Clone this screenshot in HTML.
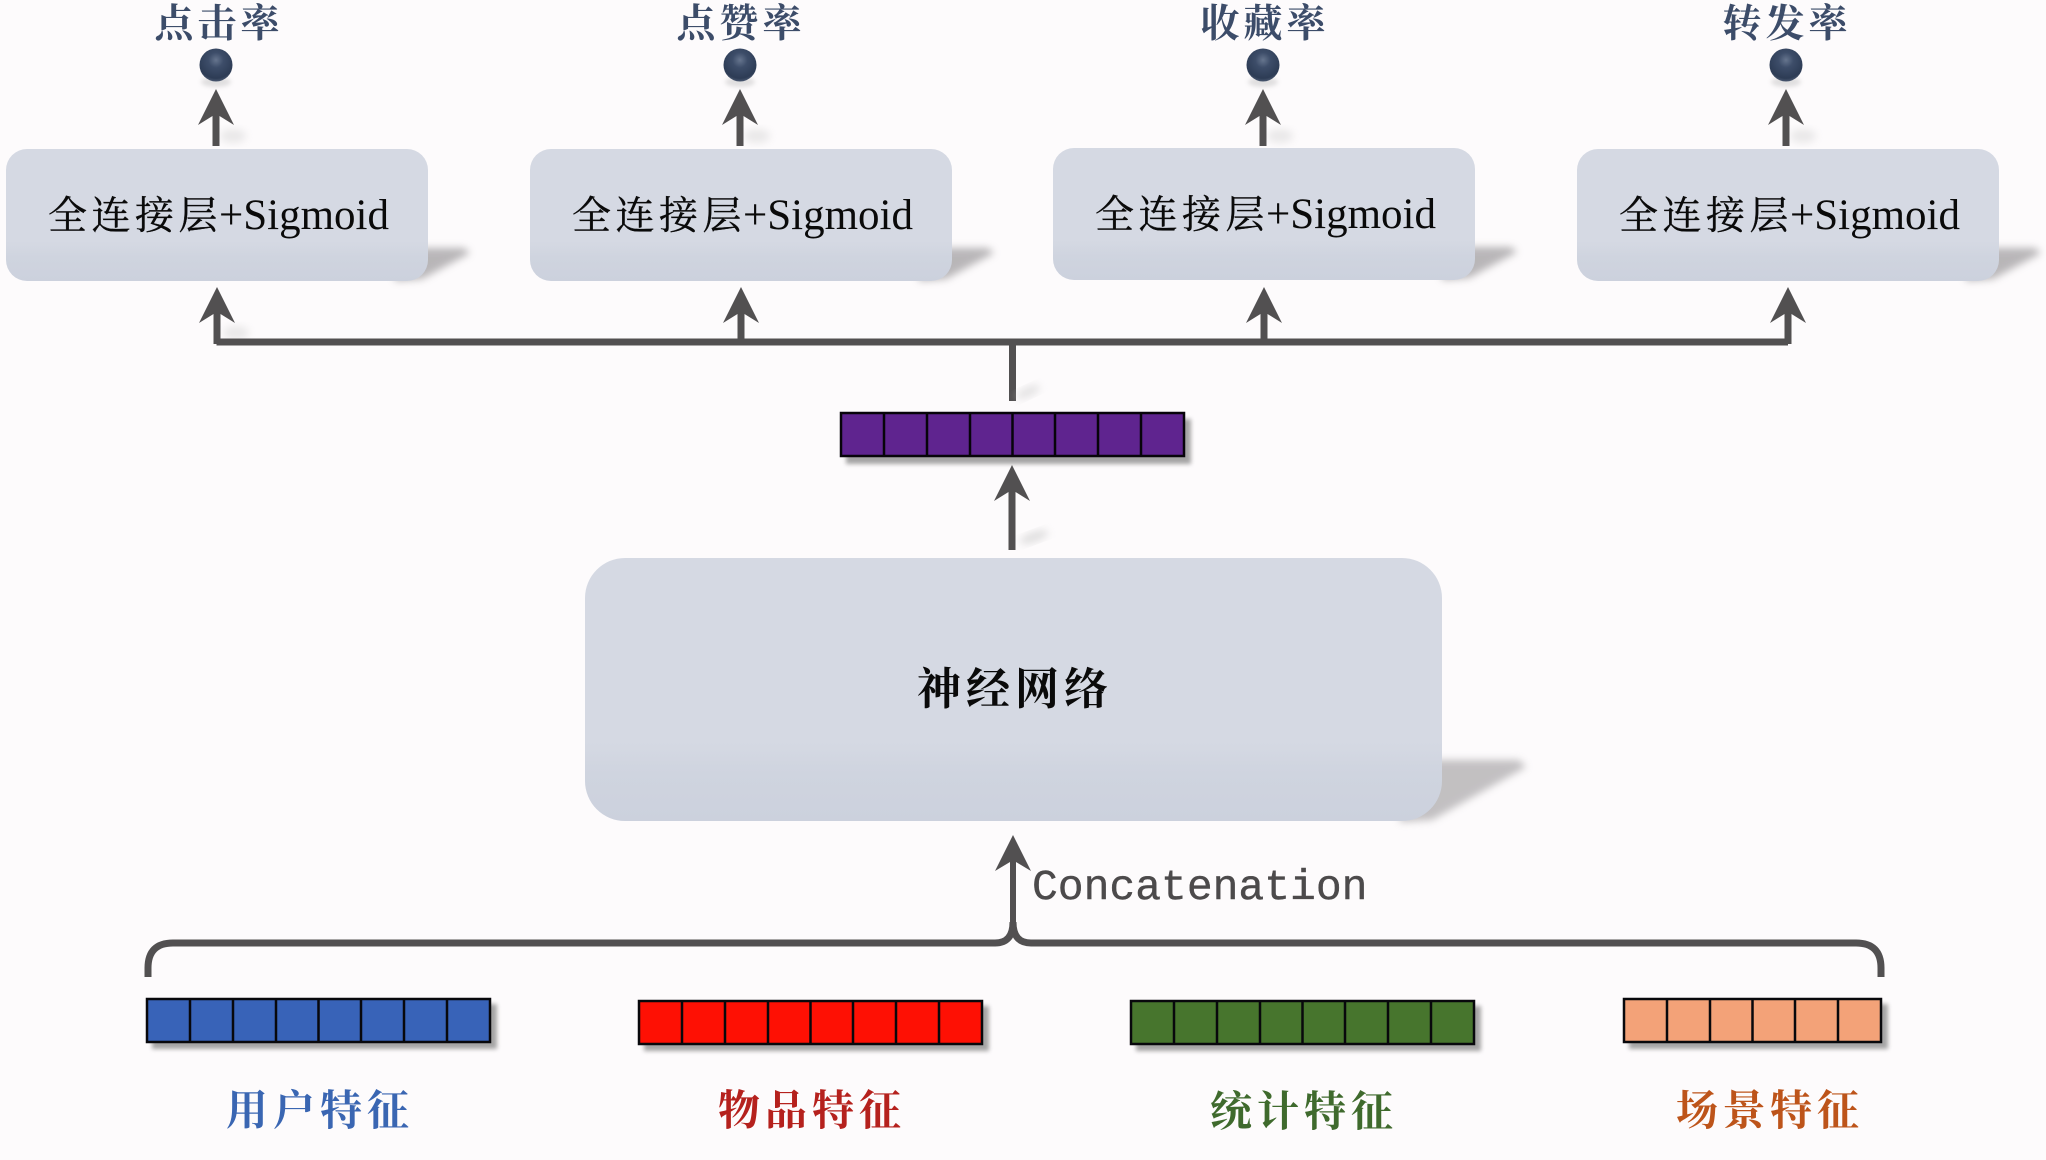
<!DOCTYPE html>
<html><head><meta charset="utf-8"><style>
html,body{margin:0;padding:0;background:#fdfbfc;width:2046px;height:1160px;overflow:hidden}
svg{display:block}
.cj{font-family:"Liberation Serif","Noto Serif CJK SC",serif}
</style></head><body>
<svg width="2046" height="1160" viewBox="0 0 2046 1160" xmlns="http://www.w3.org/2000/svg">
<defs>
<filter id="b4" x="-30%" y="-30%" width="160%" height="160%"><feGaussianBlur stdDeviation="4"/></filter>
<filter id="b2" x="-30%" y="-50%" width="160%" height="200%"><feGaussianBlur stdDeviation="2"/></filter>
<linearGradient id="sb" x1="0" y1="0" x2="0" y2="1"><stop offset="0" stop-color="#d5d9e3"/><stop offset=".7" stop-color="#d5d9e3"/><stop offset=".82" stop-color="#cfd4df"/><stop offset="1" stop-color="#ccd1dd"/></linearGradient>
<radialGradient id="ball" cx=".5" cy=".35" r=".65"><stop offset="0" stop-color="#66758e"/><stop offset=".35" stop-color="#3d4d69"/><stop offset=".85" stop-color="#2d3c55"/><stop offset="1" stop-color="#4a5870"/></radialGradient>
<path id="ar" d="M0,0 L18,36 L3.500,27 V57 H-3.500 V27 L-18,36 Z" fill="#525051"/>
<g id="box">
<path d="M395,248 L464,248 L470,253 L422,279 L395,281 Z" fill="#9b999b" opacity=".7" filter="url(#b4)"/>
<rect x="6" y="149" width="422" height="132" rx="21" fill="url(#sb)"/>
</g>
<g id="as"><ellipse cx="17" cy="47" rx="13" ry="7" fill="#ccc" opacity=".4" filter="url(#b4)"/><use href="#ar"/></g>
<g id="bl"><ellipse cx="0" cy="17" rx="15" ry="5" fill="#aaa" opacity=".35" filter="url(#b2)"/><circle cx="0" cy="0" r="16.5" fill="url(#ball)"/></g>
</defs>
<rect width="2046" height="1160" fill="#fdfbfc"/>

<!-- top labels -->
<g class="cj" font-size="39" font-weight="700" fill="#3c4c69" text-anchor="middle" letter-spacing="4">
<text x="219" y="37">点击率</text>
<text x="741" y="37">点赞率</text>
<text x="1265" y="37">收藏率</text>
<text x="1787" y="37">转发率</text>
</g>

<use href="#bl" x="216" y="65"/><use href="#bl" x="740" y="65"/><use href="#bl" x="1263" y="65"/><use href="#bl" x="1786" y="65"/>
<use href="#as" x="216" y="89"/><use href="#as" x="740" y="89"/><use href="#as" x="1263" y="89"/><use href="#as" x="1786" y="89"/>

<use href="#box"/>
<use href="#box" x="524"/>
<use href="#box" x="1047" y="-1"/>
<use href="#box" x="1571"/>

<g fill="#0a0a0a" font-size="39" stroke="#0a0a0a" stroke-width=".35">
<text class="cj" y="229"><tspan x="48" letter-spacing="4.500">全连接层</tspan><tspan x="219" font-size="43" font-family="Liberation Serif" stroke-width="0">+Sigmoid</tspan></text>
<text class="cj" y="229"><tspan x="572" letter-spacing="4.500">全连接层</tspan><tspan x="743" font-size="43" font-family="Liberation Serif" stroke-width="0">+Sigmoid</tspan></text>
<text class="cj" y="228"><tspan x="1095" letter-spacing="4.500">全连接层</tspan><tspan x="1266" font-size="43" font-family="Liberation Serif" stroke-width="0">+Sigmoid</tspan></text>
<text class="cj" y="229"><tspan x="1619" letter-spacing="4.500">全连接层</tspan><tspan x="1790" font-size="43" font-family="Liberation Serif" stroke-width="0">+Sigmoid</tspan></text>
</g>

<!-- branch -->
<ellipse cx="236" cy="333" rx="13" ry="7" fill="#ccc" opacity=".4" filter="url(#b4)"/>
<use href="#ar" x="217" y="287"/><use href="#ar" x="741" y="287"/><use href="#ar" x="1264" y="287"/><use href="#ar" x="1788" y="287"/>
<path d="M216.500,342 H1788" stroke="#525051" stroke-width="7" fill="none"/>
<rect x="1009" y="342" width="7" height="59" fill="#525051"/>
<ellipse cx="1028" cy="392" rx="13" ry="5" fill="#ccc" opacity=".5" filter="url(#b4)" transform="rotate(-25 1028 392)"/>

<!-- purple bar -->
<g id="pb">
<rect x="846" y="419" width="345" height="45" fill="#777" opacity=".65" filter="url(#b2)"/>
<rect x="841" y="413" width="343" height="43" fill="#5f248f" stroke="#07040a" stroke-width="2.500"/>
<path d="M884,413V456M927,413V456M970,413V456M1012.500,413V456M1055,413V456M1098,413V456M1141,413V456" stroke="#07040a" stroke-width="2.500"/>
</g>

<!-- arrow into vector -->
<ellipse cx="1034" cy="537" rx="15" ry="5" fill="#ccc" opacity=".6" filter="url(#b4)" transform="rotate(-20 1034 537)"/>
<path d="M1012,465 L1030,501 L1015.500,492 V550 H1008.500 V492 L994,501 Z" fill="#525051"/>

<!-- big box -->
<path d="M1400,760 L1519,760 L1526,767 L1432,820 L1400,822 Z" fill="#9b999b" opacity=".6" filter="url(#b4)"/>
<rect x="585" y="558" width="857" height="263" rx="40" fill="url(#sb)"/>
<text class="cj" x="1015" y="704" font-size="44" font-weight="700" fill="#0a0a0a" text-anchor="middle" letter-spacing="5">神经网络</text>

<!-- concat arrow and brace -->
<path d="M1013,835 L1031,871 L1016,862 V925 H1010 V862 L995,871 Z" fill="#525051"/>
<path d="M148,977 V968 Q148,943 173,943 H995 Q1013,943 1013,922 Q1013,943 1031,943 H1856 Q1881,943 1881,968 V977" stroke="#525051" stroke-width="7" fill="none"/>
<text x="1032" y="899" font-family="Liberation Mono" font-size="43" fill="#4c4a4b" stroke="#4c4a4b" stroke-width=".4">Concatenation</text>

<!-- feature bars -->
<g stroke="#08080c" stroke-width="2.500">
<rect x="152" y="1004" width="345" height="45" fill="#777" stroke="none" opacity=".65" filter="url(#b2)"/>
<rect x="147" y="999" width="343" height="43" fill="#3863b8"/>
<path d="M190,999V1042M233,999V1042M276,999V1042M318.500,999V1042M361,999V1042M404,999V1042M447,999V1042"/>

<rect x="644" y="1006" width="345" height="45" fill="#777" stroke="none" opacity=".65" filter="url(#b2)"/>
<rect x="639" y="1001" width="343" height="43" fill="#fe1004"/>
<path d="M682,1001V1044M725,1001V1044M768,1001V1044M810.500,1001V1044M853,1001V1044M896,1001V1044M939,1001V1044"/>

<rect x="1136" y="1006" width="345" height="45" fill="#777" stroke="none" opacity=".65" filter="url(#b2)"/>
<rect x="1131" y="1001" width="343" height="43" fill="#47752d"/>
<path d="M1174,1001V1044M1217,1001V1044M1260,1001V1044M1302.500,1001V1044M1345,1001V1044M1388,1001V1044M1431,1001V1044"/>

<rect x="1629" y="1004" width="259" height="45" fill="#777" stroke="none" opacity=".65" filter="url(#b2)"/>
<rect x="1624" y="999" width="257" height="43" fill="#f3a278"/>
<path d="M1667,999V1042M1710,999V1042M1752.500,999V1042M1795,999V1042M1838,999V1042"/>
</g>

<!-- feature labels -->
<g class="cj" font-size="42" font-weight="700" text-anchor="middle" letter-spacing="5">
<text x="320" y="1125" fill="#3a66b2">用户特征</text>
<text x="812" y="1125" fill="#b5211d">物品特征</text>
<text x="1304" y="1126" fill="#3f6a2d">统计特征</text>
<text x="1770" y="1125" fill="#bd541a">场景特征</text>
</g>
</svg>
</body></html>
